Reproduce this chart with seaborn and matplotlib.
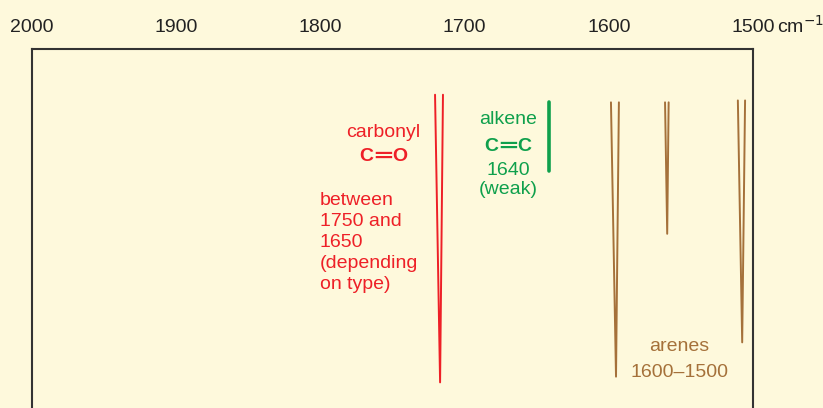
import matplotlib.pyplot as plt
import seaborn as sns
import pandas as pd

bg = "#fef9dc"
red = "#ee2027"
green = "#0fa04c"
brown = "#a5713a"
frame = "#333333"

sns.set_style("white", {"axes.facecolor": bg, "figure.facecolor": bg})
plt.rcParams["font.family"] = ["Liberation Sans", "DejaVu Sans"]

# wavenumber axis (cm-1)
tick_values = [2000, 1900, 1800, 1700, 1600, 1500]
tick_labels = ["2000", "1900", "1800", "1700", "1600", "1500"]

# absorption peaks drawn as narrow V shapes: two top ends + tip, transmittance (%)
peak_names = ["carbonyl", "arene 1", "arene 2", "arene 3"]
peak_group = ["carbonyl", "arenes", "arenes", "arenes"]
peak_left = [1720.5, 1598.5, 1561.0, 1510.5]
peak_tip = [1717.0, 1595.0, 1559.5, 1507.5]
peak_right = [1715.0, 1593.0, 1558.5, 1505.5]
peak_top = [88.0, 86.0, 86.0, 86.5]
peak_bottom = [12.5, 14.0, 51.5, 23.0]

# weak alkene band
alkene_wn = [1641.5, 1641.5]
alkene_T = [86.0, 68.0]

rows = []
for name, grp, l, t, r, top, bot in zip(peak_names, peak_group, peak_left, peak_tip,
                                         peak_right, peak_top, peak_bottom):
    rows.append({"peak": name, "group": grp, "order": 0, "wn": l, "T": top})
    rows.append({"peak": name, "group": grp, "order": 1, "wn": t, "T": bot})
    rows.append({"peak": name, "group": grp, "order": 2, "wn": r, "T": top})
peaks = pd.DataFrame(rows)

fig = plt.figure(figsize=(8.23, 4.08), dpi=100)
ax = fig.add_axes([32 / 823, (408 - 430) / 408, 721 / 823, 381 / 408])

sns.lineplot(data=peaks, x="wn", y="T", hue="group", units="peak", estimator=None,
             sort=False, palette={"carbonyl": red, "arenes": brown}, lw=1.4,
             legend=False, ax=ax)
sns.lineplot(x=alkene_wn, y=alkene_T, color=green, lw=2.6, estimator=None,
             sort=False, ax=ax)

ax.set_xlim(2000, 1500)
ax.set_ylim(0, 100)
ax.set_xlabel("")
ax.set_ylabel("")
ax.set_yticks([])
ax.xaxis.tick_top()
ax.set_xticks(tick_values)
ax.set_xticklabels(tick_labels, fontsize=14, color="#222222")
ax.tick_params(axis="x", length=0, pad=9)
for side in ["left", "top", "right", "bottom"]:
    ax.spines[side].set_color(frame)
    ax.spines[side].set_linewidth(1.5)

ax.annotate("cm$^{-1}$", xy=(1500, 1), xycoords=("data", "axes fraction"),
            xytext=(17.5, 12.0), textcoords="offset points", ha="left", va="baseline",
            fontsize=14, color="#222222", annotation_clip=False)


def bond(x, y, left, right, color):
    ax.text(x, y, "═", color=color, fontsize=19, ha="center", va="center",
            family="DejaVu Sans")
    for s, dx, ha in [(left, -7, "right"), (right, 7, "left")]:
        ax.annotate(s, xy=(x, y), xytext=(dx, 0), textcoords="offset points",
                    ha=ha, va="center", color=color, fontsize=14, fontweight="bold")


# labels
ax.text(1756.6, 78.2, "carbonyl", color=red, fontsize=14, ha="center", va="center")
bond(1756.6, 71.8, "C", "O", red)
ax.text(1800.3, 49.2, "between\n1750 and\n1650\n(depending\non type)", color=red,
        fontsize=14, ha="left", va="center", linespacing=1.3)

ax.text(1669.9, 81.4, "alkene", color=green, fontsize=14, ha="center", va="center")
bond(1669.9, 74.3, "C", "C", green)
ax.text(1669.9, 68.2, "1640", color=green, fontsize=14, ha="center", va="center")
ax.text(1669.9, 63.0, "(weak)", color=green, fontsize=14, ha="center", va="center")

ax.text(1551.3, 22.0, "arenes", color=brown, fontsize=14, ha="center", va="center")
ax.text(1551.3, 15.2, "1600–1500", color=brown, fontsize=14, ha="center", va="center")

fig.savefig("out.png", dpi=100, facecolor=bg)
